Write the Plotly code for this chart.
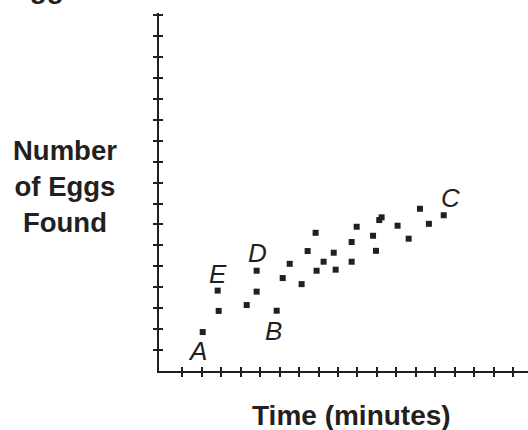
import plotly.graph_objects as go

# values (x in tick units of time, y in tick units of eggs)
time_min = [2.05, 2.87, 2.82, 4.31, 4.82, 4.82, 5.85, 6.16, 6.52, 7.13,
            7.44, 7.85, 7.90, 8.26, 8.78, 8.88, 9.70, 9.70, 9.96, 10.80,
            10.95, 11.12, 11.24, 12.06, 12.63, 13.21, 13.67, 14.43]
eggs_found = [1.86, 2.87, 3.84, 3.15, 3.79, 4.79, 2.88, 4.44, 5.12, 4.15,
              5.73, 6.60, 4.79, 5.22, 5.65, 4.84, 6.16, 5.22, 6.89, 6.46,
              5.74, 7.21, 7.34, 6.94, 6.32, 7.75, 7.03, 7.44]

point_labels = ["A", "E", "D", "B", "C"]
label_index = [0, 2, 5, 6, 27]

x_ticks = list(range(1, 19))
y_ticks = list(range(1, 18))

INK = "#231f20"
FONT = "Liberation Sans, Arial, Helvetica, sans-serif"

# pixel offsets of each letter from its point
label_shift = {"A": (-5, -19), "E": (0, 17), "D": (1, 18), "B": (-3, -20), "C": (7, 17)}

fig = go.Figure()
fig.add_trace(
    go.Scatter(
        x=time_min, y=eggs_found, mode="markers",
        marker=dict(symbol="square", size=6, color=INK, line=dict(width=0)),
        showlegend=False, hoverinfo="skip",
    )
)
# empty trace so the overlay axes (inner half of the ticks) get drawn
fig.add_trace(go.Scatter(x=[], y=[], xaxis="x2", yaxis="y2", showlegend=False))

axis_common = dict(showgrid=False, zeroline=False, showticklabels=False,
                   tickcolor=INK, tickwidth=2, ticklen=4)

fig.update_layout(
    width=528, height=430,
    margin=dict(l=159, r=0, t=13, b=59),
    paper_bgcolor="white", plot_bgcolor="white",
    font=dict(family=FONT, color=INK),
    xaxis=dict(range=[-0.195, 18.76], tickvals=x_ticks, ticks="outside",
               showline=True, linecolor=INK, linewidth=2, **axis_common),
    yaxis=dict(range=[0, 17.1], tickvals=y_ticks, ticks="outside",
               showline=True, linecolor=INK, linewidth=2, **axis_common),
    xaxis2=dict(overlaying="x", matches="x", anchor="y", side="bottom",
                tickvals=x_ticks, ticks="inside", showline=False, **axis_common),
    yaxis2=dict(overlaying="y", matches="y", anchor="x", side="left",
                tickvals=y_ticks, ticks="inside", showline=False, **axis_common),
)

for name, idx in zip(point_labels, label_index):
    dx, dy = label_shift[name]
    fig.add_annotation(
        x=time_min[idx], y=eggs_found[idx], xref="x", yref="y",
        text=name, showarrow=False, xshift=dx, yshift=dy,
        font=dict(size=26, style="italic", family=FONT, color=INK),
    )

fig.add_annotation(
    text="<b>Number<br>of Eggs<br>Found</b>", xref="paper", yref="paper",
    x=-0.2547, y=0.515, xanchor="center", yanchor="middle", align="center",
    showarrow=False, font=dict(size=27.5, family=FONT, color=INK),
)
fig.add_annotation(
    text="<b>Time (minutes)</b>", xref="paper", yref="paper",
    x=0.5217, y=-0.0754, xanchor="center", yanchor="top",
    showarrow=False, font=dict(size=28, family=FONT, color=INK),
)
# title, mostly cut off by the top edge
fig.add_annotation(
    text="<b>Eggs</b>", xref="paper", yref="paper",
    x=-0.4065, y=1.0196, xanchor="left", yanchor="bottom",
    showarrow=False, font=dict(size=28, family=FONT, color=INK),
)

# drop the browser's default page margin so the figure sits at the corner
fig.write_html("out.html", config={"displayModeBar": False},
               post_script="document.body.style.margin='0';")
